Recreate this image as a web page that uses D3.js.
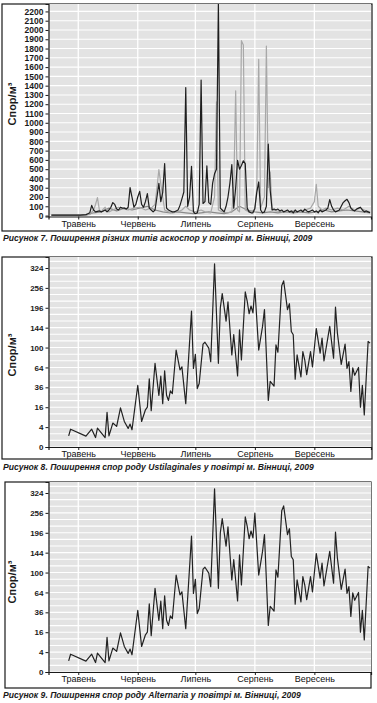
<!DOCTYPE html>
<html>
<head>
<meta charset="utf-8">
<script src="https://cdn.jsdelivr.net/npm/d3@7"></script>
<style>
body { margin: 0; background: #fff; }
svg { display: block; font-family: "Liberation Sans", Arial, sans-serif; }
</style>
</head>
<body>
<script>
// month labels sit on the 15th of every month
var months = ["Травень", "Червень", "Липень", "Серпень", "Вересень"];
var monthTicks = ["05-15", "06-15", "07-15", "08-15", "09-15"];

// Рисунок 7: three ascospore types (days counted from May 1)
var ascoBlackDays = [0, 5, 10, 15, 18, 19, 20, 21, 22, 23, 24, 25, 26, 27, 28, 29, 30, 31, 32, 33,
    34, 35, 36, 37, 38, 39, 40, 41, 42, 43, 44, 45, 46, 47, 48, 49, 50, 51, 52, 53,
    54, 55, 56, 57, 58, 59, 60, 61, 62, 63, 64, 65, 66, 67, 68, 69, 70, 71, 72, 73,
    74, 75, 76, 77, 78, 79, 80, 81, 82, 83, 84, 85, 86, 87, 88, 89, 90, 91, 92, 93,
    94, 95, 96, 97, 98, 99, 100, 101, 102, 103, 104, 105, 106, 107, 108, 109, 110, 111, 112, 113,
    114, 115, 116, 117, 118, 119, 120, 121, 122, 123, 124, 125, 126, 127, 128, 129, 130, 131, 132, 133,
    134, 135, 136, 137, 138, 139, 140, 141, 142, 143, 144, 145, 146, 147, 148, 149, 150, 151, 152, 153,
    154, 155, 156, 157, 158, 159, 160, 161, 162, 163, 164, 165, 166];
var ascoBlack = [5, 5, 5, 5, 10, 20, 30, 110, 60, 40, 45, 50, 40, 50, 60, 40, 60, 90, 140, 120,
    70, 60, 90, 80, 80, 70, 90, 301, 200, 90, 120, 200, 261, 120, 90, 150, 236, 80, 60, 40,
    60, 200, 348, 150, 250, 560, 80, 60, 50, 40, 40, 50, 60, 110, 180, 254, 1380, 100, 200, 530,
    40, 20, 30, 120, 1460, 130, 150, 535, 140, 120, 350, 450, 500, 2300, 80, 60, 40, 100, 200, 350,
    550, 80, 300, 596, 500, 540, 590, 560, 80, 40, 30, 30, 80, 250, 362, 60, 30, 40, 100, 769,
    272, 60, 70, 60, 70, 50, 60, 40, 50, 60, 40, 50, 30, 60, 40, 50, 60, 40, 70, 50,
    40, 50, 60, 40, 50, 30, 60, 40, 50, 60, 80, 172, 100, 60, 40, 50, 60, 100, 140, 160,
    175, 140, 80, 60, 50, 70, 80, 90, 60, 40, 50, 40, 30];

var ascoLightDays = [0, 15, 20, 22, 23, 24, 25, 26, 27, 28, 29, 30, 32, 35, 38, 40, 43, 46, 49, 52,
    54, 55, 56, 57, 58, 59, 61, 63, 66, 68, 70, 72, 75, 78, 80, 83, 85, 86, 87, 89,
    92, 94, 95, 96, 97, 98, 99, 100, 101, 103, 106, 107, 108, 109, 111, 112, 113, 114, 115, 117,
    120, 123, 126, 129, 132, 135, 137, 138, 139, 141, 143, 146, 149, 152, 155, 158, 161, 164, 166];
var ascoLight = [5, 5, 10, 60, 120, 193, 60, 40, 70, 90, 50, 40, 60, 90, 70, 60, 80, 90, 60, 80,
    120, 300, 495, 340, 200, 60, 40, 30, 40, 60, 100, 60, 40, 60, 40, 30, 200, 1226, 60, 40,
    30, 40, 300, 1345, 60, 40, 1885, 1838, 60, 40, 60, 300, 1683, 80, 200, 1827, 300, 470, 60, 50,
    40, 40, 50, 40, 60, 80, 150, 337, 100, 60, 80, 60, 80, 60, 100, 60, 80, 50, 40];

var ascoMidDays = [0, 18, 22, 26, 30, 34, 38, 42, 46, 50, 54, 58, 62, 66, 70, 74, 78, 82, 86, 90,
    94, 98, 102, 106, 110, 114, 118, 122, 126, 130, 134, 138, 142, 146, 150, 154, 158, 162, 166];
var ascoMid = [5, 5, 30, 40, 80, 50, 80, 60, 80, 100, 60, 40, 30, 40, 30, 20, 30, 40, 30, 20,
    40, 100, 60, 40, 30, 40, 30, 40, 30, 40, 30, 40, 60, 40, 50, 60, 50, 40, 30];

var ascoTicks = d3.range(0, 2300, 100);

// Рисунки 8 та 9: Ustilaginales / Alternaria (the same curve is printed twice)
var sporeDates = ["05-10", "05-11", "05-19", "05-22", "05-24", "05-25", "05-29", "05-30", "05-31", "06-02",
    "06-04", "06-06", "06-08", "06-10", "06-11", "06-12", "06-15", "06-17", "06-19", "06-20",
    "06-21", "06-22", "06-24", "06-26", "06-27", "06-28", "06-29", "06-30", "07-01", "07-02",
    "07-03", "07-05", "07-07", "07-08", "07-10", "07-13", "07-14", "07-15", "07-16", "07-17",
    "07-19", "07-20", "07-22", "07-23", "07-25", "07-27", "07-28", "07-29", "07-31", "08-01",
    "08-03", "08-04", "08-06", "08-07", "08-08", "08-10", "08-11", "08-12", "08-13", "08-14",
    "08-15", "08-17", "08-19", "08-20", "08-22", "08-23", "08-25", "08-26", "08-27", "08-29",
    "08-30", "09-01", "09-02", "09-03", "09-04", "09-05", "09-06", "09-08", "09-09", "09-10",
    "09-11", "09-13", "09-14", "09-16", "09-18", "09-19", "09-20", "09-23", "09-25", "09-26",
    "09-27", "09-29", "10-01", "10-02", "10-03", "10-04", "10-05", "10-06", "10-08", "10-09",
    "10-10", "10-11", "10-13", "10-14"];
var ustilaginales = [1.25, 3.2, 1.2, 3.2, 0.9, 3.6, 0.9, 12.2, 1.25, 5.8,
    4.3, 15.5, 6.6, 3.5, 5.3, 3.0, 38.5, 6.6, 14, 16,
    47, 13.4, 70.8, 27, 50.7, 18.9, 58.7, 27, 21.9, 32,
    28.7, 95, 60, 65, 18.9, 186.6, 62.5, 87, 34.5, 40.7,
    107, 111, 99, 73.6, 339, 70.8, 196, 238, 160, 213,
    85.7, 127.5, 51, 139, 76.5, 243, 215.5, 179.5, 201, 182,
    255, 95, 147, 191, 21.9, 43.7, 37.6, 105.5, 90.8, 262.6,
    279, 191, 207.6, 135, 127.5, 46.5, 85.7, 49.7, 92, 76.5,
    53, 92, 65, 141.7, 89, 120, 74.8, 147, 79.6, 198,
    131, 69, 107, 62.5, 73.6, 31.3, 63.4, 52, 64, 16,
    38.5, 10.4, 112.6, 109];
var alternaria = ustilaginales;
var sporeTicks = [0, 4, 16, 36, 64, 100, 144, 196, 256, 324];

var parseDay = d3.timeParse("%Y-%m-%d");
function day(s) { return parseDay("2009-" + s); }
function dayFrom(n) { return d3.timeDay.offset(parseDay("2009-05-01"), n); }

var W = 377, H = 703;
var svg = d3.select("body").append("svg")
    .attr("width", W)
    .attr("height", H);

var xDomain = [new Date(2009, 3, 29, 12), new Date(2009, 9, 14, 12)];

function drawChart(cfg) {
    var g = svg.append("g");

    var x = d3.scaleTime().domain(xDomain).range([cfg.left, cfg.right]);
    var y = cfg.yScale.range([cfg.bottom, cfg.top]);

    // frame
    g.append("rect")
        .attr("x", cfg.frame[0]).attr("y", cfg.frame[1])
        .attr("width", cfg.frame[2] - cfg.frame[0])
        .attr("height", cfg.frame[3] - cfg.frame[1])
        .attr("fill", "#fff")
        .attr("stroke", "#1a1a1a")
        .attr("stroke-width", 1.2);

    // plot background
    g.append("rect")
        .attr("x", cfg.left).attr("y", cfg.top)
        .attr("width", cfg.right - cfg.left)
        .attr("height", cfg.bottom - cfg.top)
        .attr("fill", "#e3e3e3");

    // horizontal grid
    g.selectAll(".hgrid")
        .data(cfg.grid)
        .enter().append("line")
        .attr("x1", cfg.left).attr("x2", cfg.right)
        .attr("y1", function(d) { return y(d); })
        .attr("y2", function(d) { return y(d); })
        .attr("stroke", "#fff")
        .attr("stroke-width", 1.1);

    // vertical grid at month ticks
    g.selectAll(".vgrid")
        .data(monthTicks)
        .enter().append("line")
        .attr("x1", function(d) { return x(day(d)); })
        .attr("x2", function(d) { return x(day(d)); })
        .attr("y1", cfg.top).attr("y2", cfg.bottom)
        .attr("stroke", "#fff")
        .attr("stroke-width", 1.3);

    var clipId = "clip" + cfg.id;
    svg.append("clipPath").attr("id", clipId)
        .append("rect")
        .attr("x", cfg.left).attr("y", cfg.top)
        .attr("width", cfg.right - cfg.left)
        .attr("height", cfg.bottom - cfg.top);

    var line = d3.line()
        .x(function(d) { return x(d.date); })
        .y(function(d) { return y(d.value); });

    cfg.series.forEach(function(s) {
        var pts = s.dates.map(function(d, i) { return {date: d, value: s.values[i]}; });
        g.append("path")
            .datum(pts)
            .attr("clip-path", "url(#" + clipId + ")")
            .attr("fill", "none")
            .attr("stroke", s.color)
            .attr("stroke-width", s.width || 1.2)
            .attr("stroke-linejoin", "round")
            .attr("d", line);
    });

    // axes
    var yAxis = d3.axisLeft(y)
        .tickValues(cfg.ticks)
        .tickFormat(d3.format("d"))
        .tickSize(3)
        .tickPadding(2);
    var ga = g.append("g")
        .attr("transform", "translate(" + cfg.left + ",0)")
        .call(yAxis);
    ga.select(".domain").attr("stroke", "#1a1a1a").attr("stroke-width", 1.2);
    ga.selectAll(".tick line").attr("stroke", "#1a1a1a");
    ga.selectAll("text")
        .attr("font-size", cfg.tickFont)
        .attr("font-weight", "bold")
        .attr("fill", "#1a1a1a");

    var xAxis = d3.axisBottom(x)
        .tickValues(monthTicks.map(day))
        .tickFormat(function(d, i) { return months[i]; })
        .tickSize(3)
        .tickPadding(1);
    var gx = g.append("g")
        .attr("transform", "translate(0," + cfg.bottom + ")")
        .call(xAxis);
    gx.select(".domain").attr("stroke", "#1a1a1a").attr("stroke-width", 1.2);
    gx.selectAll(".tick line").attr("stroke", "#1a1a1a");
    gx.selectAll("text")
        .attr("font-size", 9)
        .attr("fill", "#111");

    // y title
    g.append("text")
        .attr("transform", "translate(" + cfg.titleX + "," + cfg.titleY + ") rotate(-90)")
        .attr("text-anchor", "middle")
        .attr("font-size", 11)
        .attr("font-weight", "bold")
        .attr("fill", "#1a1a1a")
        .text("Спор/м³");

    // caption
    g.append("text")
        .attr("x", 3)
        .attr("y", cfg.captionY)
        .attr("font-size", 8.6)
        .attr("font-weight", "bold")
        .attr("font-style", "italic")
        .attr("fill", "#1a1a1a")
        .text(cfg.caption);
}

drawChart({
    id: 1,
    frame: [2, 4, 372, 231],
    left: 48.5, right: 371, top: 4, bottom: 216.5,
    yScale: d3.scaleLinear().domain([-10, 2280]),
    ticks: ascoTicks,
    grid: ascoTicks,
    tickFont: 8.5,
    titleX: 16, titleY: 104,
    captionY: 241,
    caption: "Рисунок 7. Поширення різних типів аскоспор у повітрі м. Вінниці, 2009",
    series: [
        {dates: ascoMidDays.map(dayFrom), values: ascoMid, color: "#8a8a8a"},
        {dates: ascoLightDays.map(dayFrom), values: ascoLight, color: "#a8a8a8"},
        {dates: ascoBlackDays.map(dayFrom), values: ascoBlack, color: "#1e1e1e"}
    ]
});

// minor grid: three lines for every tick interval on the sqrt axis
function sqrtGrid(ticks) {
    var out = [];
    for (var i = 0; i < ticks.length; i++) {
        var a = Math.sqrt(ticks[i]);
        var step = i < ticks.length - 1 ? (Math.sqrt(ticks[i + 1]) - a) / 3 : 2 / 3;
        for (var k = 0; k < 3; k++) out.push(Math.pow(a + k * step, 2));
    }
    return out;
}

drawChart({
    id: 2,
    frame: [2, 257, 372, 459],
    left: 48.5, right: 371, top: 257, bottom: 447,
    yScale: d3.scaleSqrt().domain([0, 365]),
    ticks: sporeTicks,
    grid: sqrtGrid(sporeTicks),
    tickFont: 8,
    titleX: 16, titleY: 355,
    captionY: 470,
    caption: "Рисунок 8. Поширення спор роду Ustilaginales у повітрі м. Вінниці, 2009",
    series: [
        {dates: sporeDates.map(day), values: ustilaginales, color: "#222"}
    ]
});

drawChart({
    id: 3,
    frame: [5, 482, 371, 688],
    left: 48.5, right: 371, top: 482, bottom: 672,
    yScale: d3.scaleSqrt().domain([0, 365]),
    ticks: sporeTicks,
    grid: sqrtGrid(sporeTicks),
    tickFont: 8,
    titleX: 16, titleY: 582,
    captionY: 698,
    caption: "Рисунок 9. Поширення спор роду Alternaria у повітрі м. Вінниці, 2009",
    series: [
        {dates: sporeDates.map(day), values: alternaria, color: "#222"}
    ]
});
</script>
</body>
</html>
